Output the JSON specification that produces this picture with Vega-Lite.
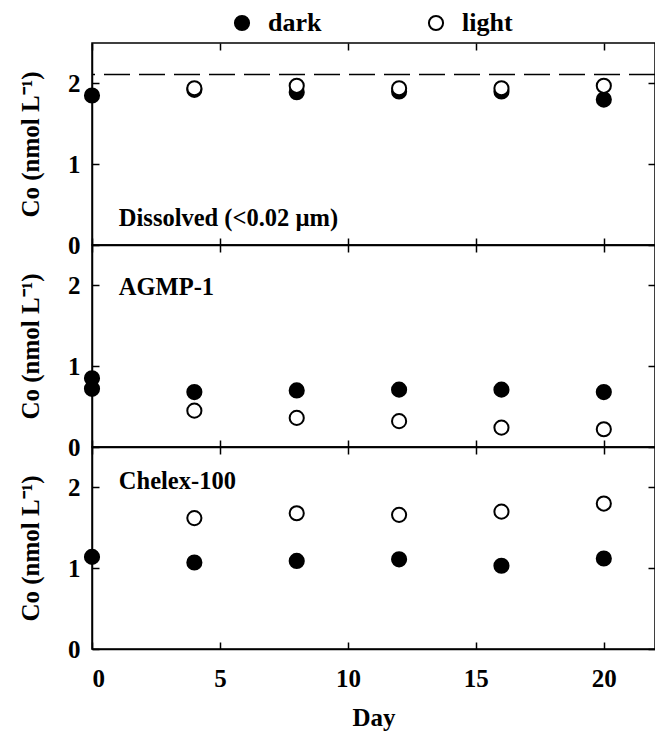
{
  "$schema": "https://vega.github.io/schema/vega-lite/v6.json",
  "background": "white",
  "padding": {"left": 17, "top": 10, "right": 0, "bottom": 5},
  "spacing": 0,
  "bounds": "flush",
  "datasets": {
    "pts": [
      {"panel": "dissolved", "treatment": "dark", "day": 0, "co": 1.85},
      {"panel": "dissolved", "treatment": "dark", "day": 4, "co": 1.92},
      {"panel": "dissolved", "treatment": "dark", "day": 8, "co": 1.89},
      {"panel": "dissolved", "treatment": "dark", "day": 12, "co": 1.9},
      {"panel": "dissolved", "treatment": "dark", "day": 16, "co": 1.9},
      {"panel": "dissolved", "treatment": "dark", "day": 20, "co": 1.8},
      {"panel": "dissolved", "treatment": "light", "day": 4, "co": 1.94},
      {"panel": "dissolved", "treatment": "light", "day": 8, "co": 1.97},
      {"panel": "dissolved", "treatment": "light", "day": 12, "co": 1.94},
      {"panel": "dissolved", "treatment": "light", "day": 16, "co": 1.94},
      {"panel": "dissolved", "treatment": "light", "day": 20, "co": 1.97},
      {"panel": "agmp", "treatment": "dark", "day": 0, "co": 0.85},
      {"panel": "agmp", "treatment": "dark", "day": 0, "co": 0.72},
      {"panel": "agmp", "treatment": "dark", "day": 4, "co": 0.68},
      {"panel": "agmp", "treatment": "dark", "day": 8, "co": 0.7},
      {"panel": "agmp", "treatment": "dark", "day": 12, "co": 0.71},
      {"panel": "agmp", "treatment": "dark", "day": 16, "co": 0.71},
      {"panel": "agmp", "treatment": "dark", "day": 20, "co": 0.68},
      {"panel": "agmp", "treatment": "light", "day": 4, "co": 0.45},
      {"panel": "agmp", "treatment": "light", "day": 8, "co": 0.36},
      {"panel": "agmp", "treatment": "light", "day": 12, "co": 0.32},
      {"panel": "agmp", "treatment": "light", "day": 16, "co": 0.24},
      {"panel": "agmp", "treatment": "light", "day": 20, "co": 0.22},
      {"panel": "chelex", "treatment": "dark", "day": 0, "co": 1.14},
      {"panel": "chelex", "treatment": "dark", "day": 4, "co": 1.07},
      {"panel": "chelex", "treatment": "dark", "day": 8, "co": 1.09},
      {"panel": "chelex", "treatment": "dark", "day": 12, "co": 1.11},
      {"panel": "chelex", "treatment": "dark", "day": 16, "co": 1.03},
      {"panel": "chelex", "treatment": "dark", "day": 20, "co": 1.12},
      {"panel": "chelex", "treatment": "light", "day": 4, "co": 1.62},
      {"panel": "chelex", "treatment": "light", "day": 8, "co": 1.68},
      {"panel": "chelex", "treatment": "light", "day": 12, "co": 1.66},
      {"panel": "chelex", "treatment": "light", "day": 16, "co": 1.7},
      {"panel": "chelex", "treatment": "light", "day": 20, "co": 1.8}
    ],
    "labels": [
      {"panel": "dissolved", "label": "Dissolved (<0.02 µm)", "day": 1.05, "co": 0.32},
      {"panel": "agmp", "label": "AGMP-1", "day": 1.05, "co": 1.97},
      {"panel": "chelex", "label": "Chelex-100", "day": 1.05, "co": 2.07}
    ],
    "refs": [
      {"panel": "dissolved", "co": 2.11}
    ]
  },
  "config": {
    "font": "Liberation Serif",
    "view": {"stroke": "black", "strokeWidth": 1.5},
    "concat": {"spacing": 0},
    "axis": {
      "labelFont": "Liberation Serif", "labelFontSize": 25, "labelFontWeight": "bold", "labelColor": "black",
      "titleFont": "Liberation Serif", "titleFontSize": 25, "titleFontWeight": "bold", "titleColor": "black",
      "domainColor": "black", "domainWidth": 1.5, "tickColor": "black", "tickWidth": 1.5, "tickSize": -7,
      "grid": false, "labelPadding": 19
    }
  },
  "vconcat": [
    {
      "width": 563, "height": 202,
      "layer": [
        {"data": {"name": "refs"},
         "mark": {"type": "rule", "strokeDash": [26, 9], "strokeWidth": 1.5, "color": "black"},
         "encoding": {"y": {"field": "co", "type": "quantitative", "axis": null}}},
        {"data": {"name": "pts"},
         "transform": [{"filter": "datum.panel == 'dissolved'"}],
         "mark": {"type": "point", "shape": "circle", "filled": true, "size": 200, "stroke": "black", "strokeWidth": 2, "opacity": 1},
         "encoding": {
           "x": {"field": "day", "type": "quantitative", "scale": {"domain": [0, 22], "nice": false}, "axis": {"values": [0, 5, 10, 15, 20], "labels": false, "title": null}},
           "y": {"field": "co", "type": "quantitative", "scale": {"domain": [0, 2.5], "nice": false}, "axis": {"values": [0, 1, 2], "title": "Co (nmol L⁻¹)", "titlePadding": 24}},
           "fill": {"field": "treatment", "type": "nominal", "scale": {"domain": ["dark", "light"], "range": ["black", "white"]},
             "legend": {"orient": "none", "legendX": 137, "legendY": -33, "direction": "horizontal", "title": null,
               "symbolType": "circle", "symbolSize": 200, "symbolStrokeColor": "black", "symbolStrokeWidth": 2,
               "labelFont": "Liberation Serif", "labelFontSize": 26, "labelFontWeight": "bold", "labelColor": "black",
               "columnPadding": 101, "labelOffset": 13}}
         }},
        {"data": {"name": "pts"},
         "transform": [{"filter": "datum.panel == 'dissolved'"}],
         "mark": {"type": "point", "opacity": 0},
         "encoding": {
           "x": {"field": "day", "type": "quantitative", "axis": {"orient": "top", "values": [0, 5, 10, 15, 20], "labels": false, "title": null, "domain": false}},
           "y": {"field": "co", "type": "quantitative", "axis": {"orient": "right", "values": [0, 1, 2], "labels": false, "title": null, "domain": false}}
         }},
        {"data": {"name": "labels"},
         "transform": [{"filter": "datum.panel == 'dissolved'"}],
         "mark": {"type": "text", "align": "left", "baseline": "middle", "font": "Liberation Serif", "fontSize": 24.5, "fontWeight": "bold", "color": "black"},
         "encoding": {"x": {"field": "day", "type": "quantitative", "axis": null}, "y": {"field": "co", "type": "quantitative", "axis": null}, "text": {"field": "label"}}}
      ],
      "resolve": {"axis": {"x": "independent", "y": "independent"}}
    },
    {
      "width": 563, "height": 202,
      "layer": [
        {"data": {"name": "pts"},
         "transform": [{"filter": "datum.panel == 'agmp'"}],
         "mark": {"type": "point", "shape": "circle", "filled": true, "size": 200, "stroke": "black", "strokeWidth": 2, "opacity": 1},
         "encoding": {
           "x": {"field": "day", "type": "quantitative", "scale": {"domain": [0, 22], "nice": false}, "axis": {"values": [0, 5, 10, 15, 20], "labels": false, "title": null}},
           "y": {"field": "co", "type": "quantitative", "scale": {"domain": [0, 2.5], "nice": false}, "axis": {"values": [0, 1, 2], "title": "Co (nmol L⁻¹)", "titlePadding": 24}},
           "fill": {"field": "treatment", "type": "nominal", "scale": {"domain": ["dark", "light"], "range": ["black", "white"]}, "legend": null}
         }},
        {"data": {"name": "pts"},
         "transform": [{"filter": "datum.panel == 'agmp'"}],
         "mark": {"type": "point", "opacity": 0},
         "encoding": {
           "x": {"field": "day", "type": "quantitative", "axis": {"orient": "top", "values": [0, 5, 10, 15, 20], "labels": false, "title": null, "domain": false}},
           "y": {"field": "co", "type": "quantitative", "axis": {"orient": "right", "values": [0, 1, 2], "labels": false, "title": null, "domain": false}}
         }},
        {"data": {"name": "labels"},
         "transform": [{"filter": "datum.panel == 'agmp'"}],
         "mark": {"type": "text", "align": "left", "baseline": "middle", "font": "Liberation Serif", "fontSize": 24.5, "fontWeight": "bold", "color": "black"},
         "encoding": {"x": {"field": "day", "type": "quantitative", "axis": null}, "y": {"field": "co", "type": "quantitative", "axis": null}, "text": {"field": "label"}}}
      ],
      "resolve": {"axis": {"x": "independent", "y": "independent"}}
    },
    {
      "width": 563, "height": 202,
      "layer": [
        {"data": {"name": "pts"},
         "transform": [{"filter": "datum.panel == 'chelex'"}],
         "mark": {"type": "point", "shape": "circle", "filled": true, "size": 200, "stroke": "black", "strokeWidth": 2, "opacity": 1},
         "encoding": {
           "x": {"field": "day", "type": "quantitative", "scale": {"domain": [0, 22], "nice": false}, "axis": {"values": [0, 5, 10, 15, 20], "title": "Day", "titlePadding": 14, "labelPadding": 24}},
           "y": {"field": "co", "type": "quantitative", "scale": {"domain": [0, 2.5], "nice": false}, "axis": {"values": [0, 1, 2], "title": "Co (nmol L⁻¹)", "titlePadding": 24}},
           "fill": {"field": "treatment", "type": "nominal", "scale": {"domain": ["dark", "light"], "range": ["black", "white"]}, "legend": null}
         }},
        {"data": {"name": "pts"},
         "transform": [{"filter": "datum.panel == 'chelex'"}],
         "mark": {"type": "point", "opacity": 0},
         "encoding": {
           "x": {"field": "day", "type": "quantitative", "axis": {"orient": "top", "values": [0, 5, 10, 15, 20], "labels": false, "title": null, "domain": false}},
           "y": {"field": "co", "type": "quantitative", "axis": {"orient": "right", "values": [0, 1, 2], "labels": false, "title": null, "domain": false}}
         }},
        {"data": {"name": "labels"},
         "transform": [{"filter": "datum.panel == 'chelex'"}],
         "mark": {"type": "text", "align": "left", "baseline": "middle", "font": "Liberation Serif", "fontSize": 24.5, "fontWeight": "bold", "color": "black"},
         "encoding": {"x": {"field": "day", "type": "quantitative", "axis": null}, "y": {"field": "co", "type": "quantitative", "axis": null}, "text": {"field": "label"}}}
      ],
      "resolve": {"axis": {"x": "independent", "y": "independent"}}
    }
  ]
}
